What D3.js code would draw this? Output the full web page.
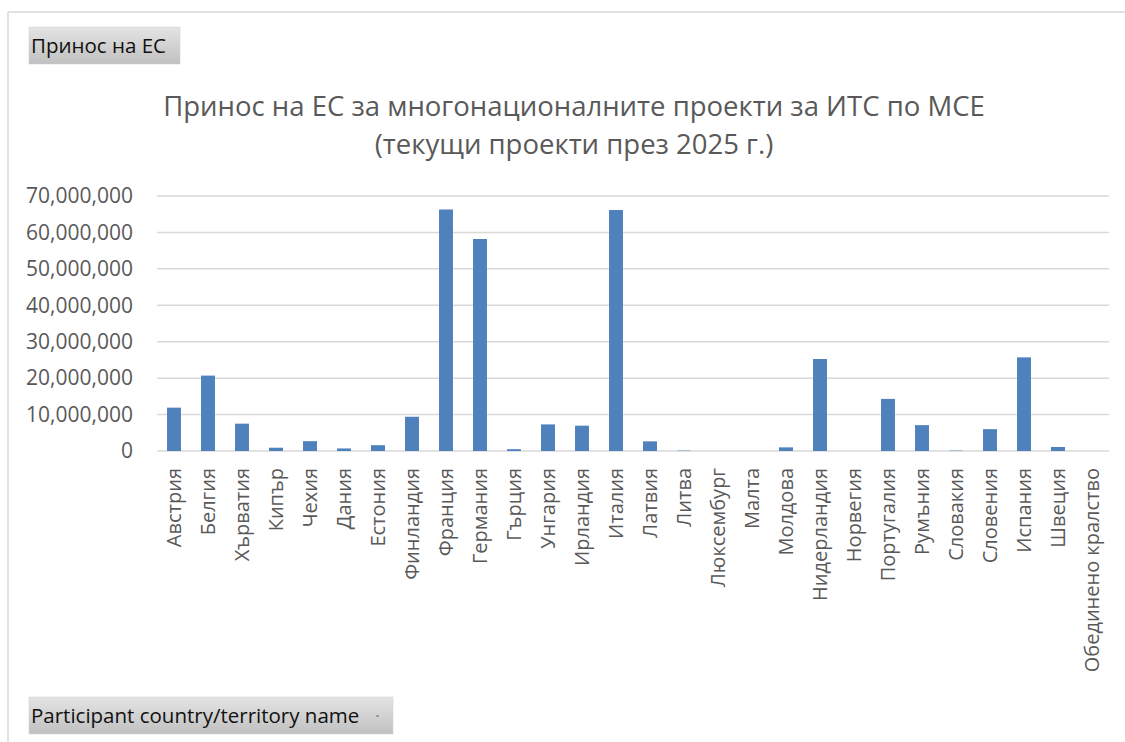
<!DOCTYPE html>
<html>
<head>
<meta charset="utf-8">
<script src="https://cdn.jsdelivr.net/npm/d3@7"></script>
<style>
  body { margin: 0; background: #fff; }
  svg { display: block; }
</style>
</head>
<body>
<svg id="chart" width="1125" height="742"></svg>
<script>
// categories and values (EUR)
const countries = [
  "Австрия", "Белгия", "Хърватия", "Кипър", "Чехия", "Дания", "Естония",
  "Финландия", "Франция", "Германия", "Гърция", "Унгария", "Ирландия", "Италия",
  "Латвия", "Литва", "Люксембург", "Малта", "Молдова", "Нидерландия", "Норвегия",
  "Португалия", "Румъния", "Словакия", "Словения", "Испания", "Швеция",
  "Обединено кралство"
];
const values = [
  11900000, 20700000, 7500000, 900000, 2700000, 700000, 1600000,
  9400000, 66300000, 58200000, 500000, 7300000, 6950000, 66150000,
  2650000, 100000, 0, 0, 1000000, 25250000, 0,
  14300000, 7100000, 100000, 6000000, 25700000, 1100000,
  0
];
const yTicks = [0, 10000000, 20000000, 30000000, 40000000, 50000000, 60000000, 70000000];
const titleLines = [
  "Принос на ЕС за многонационалните проекти за ИТС по МСЕ",
  "(текущи проекти през 2025 г.)"
];
const topButton = "Принос на ЕС";
const bottomButton = "Participant country/territory name";

const svg = d3.select("#chart");
const margin = { top: 196, left: 157, right: 16, bottom: 291 };
const width = 1125 - margin.left - margin.right;
const height = 742 - margin.top - margin.bottom;
const font = "'Open Sans', 'Noto Sans', sans-serif";

const defs = svg.append("defs");
const grad = defs.append("linearGradient")
  .attr("id", "btn").attr("x1", 0).attr("y1", 0).attr("x2", 0).attr("y2", 1);
grad.append("stop").attr("offset", "0%").attr("stop-color", "#e4e4e4");
grad.append("stop").attr("offset", "100%").attr("stop-color", "#c0c0c0");

// outer frame (top + left only visible)
svg.append("line").attr("x1", 8).attr("x2", 1125).attr("y1", 12).attr("y2", 12)
  .attr("stroke", "#d9d9d9").attr("stroke-width", 1.5);
svg.append("line").attr("x1", 8).attr("x2", 8).attr("y1", 12).attr("y2", 742)
  .attr("stroke", "#d9d9d9").attr("stroke-width", 1.5);

// field buttons
function button(x, y, w, h, label, arrow) {
  const b = svg.append("g").attr("transform", `translate(${x},${y})`);
  b.append("rect").attr("width", w).attr("height", h).attr("fill", "url(#btn)")
    .attr("stroke", "#d0d0d0").attr("stroke-width", 0.5);
  b.append("text").attr("x", 2).attr("y", h / 2 + 7)
    .attr("font-family", font)
    .attr("font-size", 20.5).attr("fill", "#111").text(label);
  if (arrow) {
    b.append("rect").attr("x", w - 17).attr("y", h / 2).attr("width", 3).attr("height", 1)
      .attr("fill", "#666");
  }
}
button(29, 27, 151, 37, topButton, false);
button(29, 697, 364, 37, bottomButton, true);

// title
const title = svg.append("text")
  .attr("text-anchor", "middle")
  .attr("font-family", font)
  .attr("font-size", 25).attr("fill", "#595959");
titleLines.forEach((t, i) => {
  title.append("tspan").attr("x", 574).attr("y", 116 + i * 38).text(t);
});
// fit first line to reference width
const tl = title.select("tspan").node().getComputedTextLength();
title.attr("font-size", 25 * 822 / tl);

const g = svg.append("g").attr("transform", `translate(${margin.left},${margin.top})`);

const x = d3.scaleBand().domain(countries).range([0, width]).paddingInner(0.59).paddingOuter(0.295);
const y = d3.scaleLinear().domain([0, 70000000]).range([height, 0]);

// gridlines
g.append("g").selectAll("line").data(yTicks).join("line")
  .attr("x1", 0).attr("x2", width)
  .attr("y1", d => y(d)).attr("y2", d => y(d))
  .attr("stroke", "#d9d9d9").attr("stroke-width", 1.5);

// y axis labels
const yAxis = d3.axisLeft(y).tickValues(yTicks).tickSize(0).tickPadding(24)
  .tickFormat(d3.format(","));
g.append("g").call(yAxis)
  .call(a => a.select(".domain").remove())
  .selectAll("text")
  .attr("font-family", font)
  .attr("font-size", 21).attr("fill", "#595959");

// bars
g.append("g").selectAll("rect").data(values).join("rect")
  .attr("x", (d, i) => x(countries[i]))
  .attr("width", x.bandwidth())
  .attr("y", d => y(d))
  .attr("height", d => height - y(d))
  .attr("fill", "#4f81bd");

// x axis labels
const xAxis = d3.axisBottom(x).tickSize(0).tickPadding(0);
g.append("g").attr("transform", `translate(0,${height})`).call(xAxis)
  .call(a => a.select(".domain").remove())
  .selectAll("text")
  .attr("font-family", font)
  .attr("font-size", 20).attr("fill", "#595959")
  .attr("text-anchor", "end")
  .attr("dy", "0.35em")
  .attr("transform", "translate(0,17) rotate(-90)")
  .attr("x", 0).attr("y", 0);
</script>
</body>
</html>
